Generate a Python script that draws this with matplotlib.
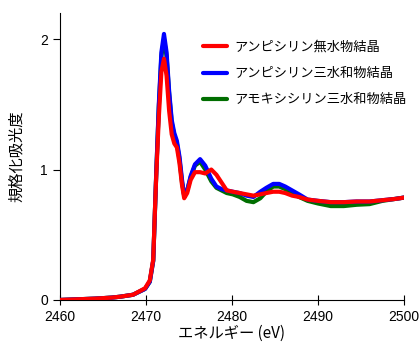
import matplotlib
matplotlib.use("Agg")
import matplotlib.pyplot as plt

plt.rcParams['font.family'] = ['Liberation Sans', 'Noto Sans CJK JP', 'DejaVu Sans']

energy = [2460, 2462, 2464, 2466, 2467, 2468.5, 2469.9, 2470.45, 2470.85, 2471.05,
          2471.2, 2471.5, 2471.8, 2472.1, 2472.4, 2472.7, 2473.0, 2473.3, 2473.6, 2473.9,
          2474.2, 2474.45, 2474.8, 2475.2, 2475.7, 2476.3, 2476.9, 2477.6, 2478.2, 2478.8,
          2479.4, 2480.1, 2480.9, 2481.7, 2482.5, 2483.3, 2484.0, 2484.8, 2485.5, 2486.2,
          2487.0, 2487.8, 2488.8, 2490.0, 2491.5, 2493.0, 2494.5, 2496.0, 2497.5, 2499.0,
          2500]

ampicillin_anhydrous = [0.0, 0.005, 0.01, 0.018, 0.025, 0.04, 0.09, 0.15, 0.31, 0.69,
                        0.95, 1.4, 1.75, 1.85, 1.72, 1.45, 1.27, 1.2, 1.17, 1.05,
                        0.88, 0.78, 0.82, 0.92, 0.98, 0.98, 0.97, 1.0, 0.96, 0.9,
                        0.84, 0.83, 0.82, 0.81, 0.80, 0.81, 0.82, 0.83, 0.83, 0.82,
                        0.80, 0.79, 0.77, 0.76, 0.75, 0.75, 0.755, 0.755, 0.765, 0.775,
                        0.785]

ampicillin_trihydrate = [0.0, 0.005, 0.01, 0.018, 0.025, 0.04, 0.085, 0.14, 0.3, 0.68,
                         0.97, 1.5, 1.9, 2.04, 1.9, 1.6, 1.38, 1.28, 1.22, 1.1,
                         0.92, 0.8, 0.84, 0.95, 1.04, 1.08, 1.03, 0.93, 0.87, 0.85,
                         0.84, 0.83, 0.82, 0.80, 0.79, 0.83, 0.86, 0.89, 0.89, 0.87,
                         0.84, 0.81, 0.77, 0.76, 0.75, 0.75, 0.755, 0.755, 0.765, 0.775,
                         0.785]

amoxicillin_trihydrate = [0.0, 0.005, 0.01, 0.018, 0.025, 0.04, 0.085, 0.14, 0.3, 0.68,
                          0.97, 1.48, 1.87, 2.0, 1.87, 1.58, 1.36, 1.26, 1.2, 1.08,
                          0.9, 0.8, 0.84, 0.94, 1.03, 1.06, 1.0, 0.91, 0.86, 0.84,
                          0.82, 0.81, 0.79, 0.76, 0.75, 0.78, 0.83, 0.87, 0.87, 0.85,
                          0.82, 0.79, 0.76, 0.74, 0.72, 0.72, 0.73, 0.735, 0.76, 0.775,
                          0.785]

labels = ["アンピシリン無水物結晶", "アンピシリン三水和物結晶", "アモキシシリン三水和物結晶"]
colors = ["#ff0000", "#0000ff", "#006e00"]

fig = plt.figure(figsize=(4.19, 3.44), dpi=100)
ax = fig.add_axes([0.143, 0.128, 0.821, 0.834])

style = dict(lw=3, solid_joinstyle='round', solid_capstyle='round')
ax.plot(energy, amoxicillin_trihydrate, color=colors[2], label=labels[2], zorder=2, **style)
ax.plot(energy, ampicillin_trihydrate, color=colors[1], label=labels[1], zorder=3, **style)
ax.plot(energy, ampicillin_anhydrous, color=colors[0], label=labels[0], zorder=4, **style)

ax.set_xlim(2460, 2500)
ax.set_ylim(0, 2.2)
ax.set_xticks([2460, 2470, 2480, 2490, 2500])
ax.set_yticks([0, 1, 2])
ax.spines['top'].set_visible(False)
ax.spines['right'].set_visible(False)
ax.tick_params(axis='x', direction='inout', length=7, labelsize=10)
ax.tick_params(axis='y', direction='out', length=5, labelsize=10)

jp = ['Noto Sans CJK JP', 'DejaVu Sans']
ax.set_xlabel("エネルギー (eV)", family=jp, fontsize=11, labelpad=1)
ax.set_ylabel("規格化吸光度", family=jp, fontsize=11, labelpad=11)

handles, labs = ax.get_legend_handles_labels()
ax.legend(handles[::-1], labs[::-1], loc='upper right', bbox_to_anchor=(1.036, 0.935),
          frameon=False, prop={'family': jp, 'size': 9.5}, handlelength=1.8,
          labelspacing=1.0, handletextpad=0.6, borderpad=0.2)

fig.savefig("out.png", dpi=100)
